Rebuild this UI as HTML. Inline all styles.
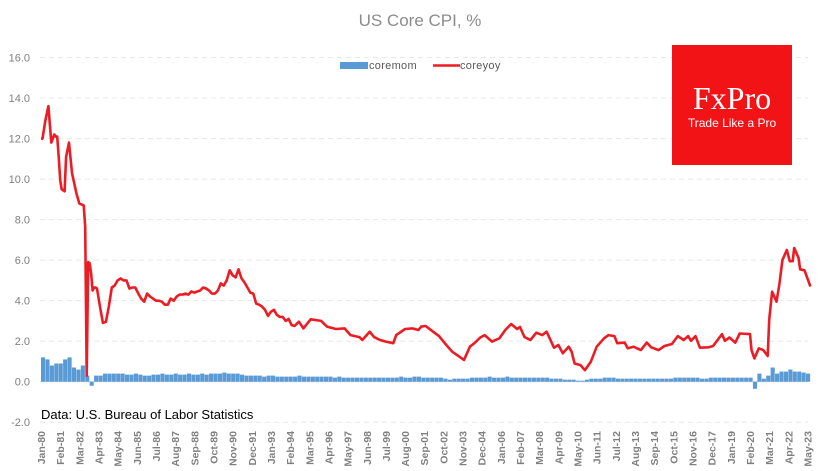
<!DOCTYPE html>
<html><head><meta charset="utf-8"><style>
body{margin:0;background:#fff;}
svg{display:block;font-family:"Liberation Sans",sans-serif;}
</style></head><body>
<svg id="chart" width="835" height="471" viewBox="0 0 835 471" xmlns="http://www.w3.org/2000/svg">
<text x="420" y="26" text-anchor="middle" font-size="17" fill="#8c8c8c">US Core CPI, %</text>
<g id="grid"></g>
<g id="yaxis"></g>
<g id="bars"></g>
<path id="line" fill="none" stroke="#ec1c24" stroke-width="2.6" stroke-linejoin="round"/>
<g id="xaxis"></g>
<g>
<rect x="340" y="62" width="28" height="7" fill="#5b9bd5"/>
<text x="369" y="69" font-size="11" fill="#595959" letter-spacing="0.3">coremom</text>
<line x1="433" y1="65.5" x2="460" y2="65.5" stroke="#ec1c24" stroke-width="2.6"/>
<text x="460" y="69" font-size="11" fill="#595959" letter-spacing="0.3">coreyoy</text>
</g>
<text x="41" y="419" font-size="13" fill="#000">Data: U.S. Bureau of Labor Statistics</text>
<g>
<rect x="672" y="45" width="120" height="120" fill="#f21317"/>
<text x="732" y="109" text-anchor="middle" font-family="Liberation Serif,serif" font-size="32" fill="#fff">FxPro</text>
<text x="732" y="127" text-anchor="middle" font-size="12" fill="#fff">Trade Like a Pro</text>
</g>
</svg>
<script>
const yoyMonths=[0,1,3,5,7,9,10,11,12,13,14,16,17,19,21,24,26,29,30,31,32,33,34,35,36,37,38,40,42,44,46,48,50,52,54,56,58,60,62,64,66,68,70,72,74,76,78,80,82,84,86,88,90,92,94,96,98,100,102,104,106,108,110,112,114,116,118,120,122,124,126,128,130,132,134,136,138,140,142,144,146,148,150,152,154,156,158,160,162,164,166,168,170,172,175,178,183,190,194,200,206,210,216,218,223,226,230,234,239,241,247,252,256,258,261,266,270,275,279,284,287,291,294,298,301,306,311,315,319,323,325,328,332,336,340,343,348,351,354,358,360,362,366,369,373,377,382,385,389,391,396,398,402,407,411,414,419,423,428,432,436,439,441,444,447,453,456,459,462,464,467,471,474,481,482,484,487,490,493,494,496,499,501,503,506,508,510,511,514,515,518,522];
const yoyValues=[12.0,12.0,12.9,13.6,11.8,12.2,12.1,12.1,11.1,9.95,9.5,9.4,11.1,11.8,10.3,9.3,8.8,8.7,7.65,0.3,5.9,5.85,5.35,4.5,4.65,4.65,4.6,3.7,2.9,2.95,3.7,4.65,4.75,5.0,5.1,5.0,5.0,4.6,4.65,4.65,4.35,4.1,3.95,4.35,4.2,4.1,4.0,4.0,3.95,3.8,3.8,4.1,4.0,4.2,4.3,4.3,4.35,4.3,4.45,4.4,4.45,4.5,4.65,4.6,4.5,4.35,4.35,4.5,4.85,4.75,5.0,5.5,5.25,5.15,5.55,5.1,4.9,4.65,4.4,4.35,3.85,3.8,3.7,3.55,3.25,3.45,3.55,3.3,3.2,3.2,3.0,3.1,2.8,2.75,2.96,2.63,3.08,3.0,2.72,2.6,2.63,2.3,2.2,2.06,2.47,2.2,2.06,1.98,1.9,2.3,2.6,2.63,2.55,2.72,2.75,2.47,2.25,1.81,1.48,1.23,1.07,1.73,1.9,2.18,2.3,1.98,2.14,2.55,2.85,2.6,2.7,2.2,2.06,2.42,2.3,2.47,1.68,1.81,1.4,1.73,1.48,0.9,0.82,0.57,0.98,1.73,2.14,2.3,2.25,1.9,1.93,1.65,1.73,1.56,1.93,1.7,1.56,1.76,1.86,2.25,2.06,2.25,2.02,2.25,1.68,1.7,1.76,2.06,2.35,2.02,2.18,1.93,2.38,2.35,1.56,1.15,1.65,1.56,1.27,3.05,4.44,3.95,4.85,6.0,6.5,5.95,5.95,6.6,6.1,5.55,5.5,4.7];
// quarterly core m/m, 1980Q1 .. 2023Q2 (174 quarters)
const momValues=[
1.2,1.1,0.8,0.9, 0.9,1.1,1.2,0.7, 0.6,0.8,0.3,-0.2, 0.3,0.3,0.4,0.4, 0.4,0.4,0.4,0.35,
0.35,0.4,0.35,0.3, 0.3,0.35,0.35,0.4, 0.35,0.35,0.4,0.35, 0.35,0.4,0.35,0.35, 0.4,0.35,0.4,0.4, 0.4,0.45,0.4,0.4,
0.4,0.35,0.3,0.3, 0.3,0.3,0.25,0.3, 0.3,0.25,0.25,0.25, 0.25,0.25,0.3,0.25, 0.25,0.25,0.25,0.25, 0.25,0.25,0.2,0.25,
0.2,0.2,0.2,0.2, 0.2,0.2,0.2,0.2, 0.2,0.2,0.2,0.2, 0.2,0.25,0.2,0.2, 0.25,0.25,0.2,0.2, 0.2,0.2,0.2,0.15,
0.1,0.15,0.15,0.15, 0.15,0.2,0.2,0.2, 0.2,0.25,0.2,0.2, 0.2,0.25,0.2,0.2, 0.2,0.2,0.2,0.2,
0.2,0.2,0.2,0.15, 0.15,0.15,0.1,0.1, 0.1,0.05,0.05,0.1, 0.15,0.15,0.15,0.2, 0.2,0.2,0.15,0.15, 0.15,0.15,0.15,0.15,
0.15,0.15,0.15,0.15, 0.15,0.15,0.15,0.2, 0.2,0.2,0.2,0.2, 0.2,0.15,0.15,0.2, 0.2,0.2,0.2,0.2, 0.2,0.2,0.2,0.2,
0.2,-0.35,0.4,0.15, 0.3,0.7,0.4,0.5, 0.5,0.6,0.5,0.5, 0.45,0.4];
const yTicks=[16,14,12,10,8,6,4,2,0,-2];
const xTickLabels=["Jan-80","Feb-81","Mar-82","Apr-83","May-84","Jun-85","Jul-86","Aug-87","Sep-88","Oct-89","Nov-90","Dec-91","Jan-93","Feb-94","Mar-95","Apr-96","May-97","Jun-98","Jul-99","Aug-00","Sep-01","Oct-02","Nov-03","Dec-04","Jan-06","Feb-07","Mar-08","Apr-09","May-10","Jun-11","Jul-12","Aug-13","Sep-14","Oct-15","Nov-16","Dec-17","Jan-19","Feb-20","Mar-21","Apr-22","May-23"];
const xTickStep=13;

const NS="http://www.w3.org/2000/svg";
function xS(m){return 41+m*1.474;}
function yS(v){return 381.7-v*20.26;}
function mk(tag,attrs,parent){const e=document.createElementNS(NS,tag);for(const k in attrs)e.setAttribute(k,attrs[k]);parent.appendChild(e);return e;}

const grid=document.getElementById('grid'),ya=document.getElementById('yaxis'),xa=document.getElementById('xaxis'),bars=document.getElementById('bars');
yTicks.forEach(t=>{
  const l=mk('line',{x1:40,x2:808,y1:yS(t),y2:yS(t),stroke:t===0?'#d9d9d9':'#e8e8e8','stroke-width':1,'stroke-dasharray':t===0?'':'5,4'},grid);
  
  
  const tx=mk('text',{x:30,y:yS(t)+4,'text-anchor':'end','font-size':11,fill:'#7f7f7f'},ya);
  tx.textContent=t.toFixed(1);
  
  
});
xTickLabels.forEach((lab,i)=>{
  const x=xS(i*xTickStep)+4;
  const tx=mk('text',{x:x,y:431,'text-anchor':'end','font-size':10.5,'font-weight':'bold',fill:'#7f7f7f',transform:`rotate(-90 ${x} 431)`},xa);
  tx.textContent=lab;
  
  
});
momValues.forEach((v,i)=>{
  const x0=xS(i*3),x1=xS(i*3+3);
  const y0=yS(0),y1=yS(v);
  const r=mk('rect',{x:x0,y:Math.min(y0,y1),width:Math.max(0.5,x1-x0-0.3),height:Math.abs(y1-y0),fill:'#5b9bd5'},bars);
  
  
});
let d='';
yoyMonths.forEach((m,i)=>{d+=(i?'L':'M')+xS(m).toFixed(1)+','+yS(yoyValues[i]).toFixed(1);});
document.getElementById('line').setAttribute('d',d);
</script>
</body></html>
